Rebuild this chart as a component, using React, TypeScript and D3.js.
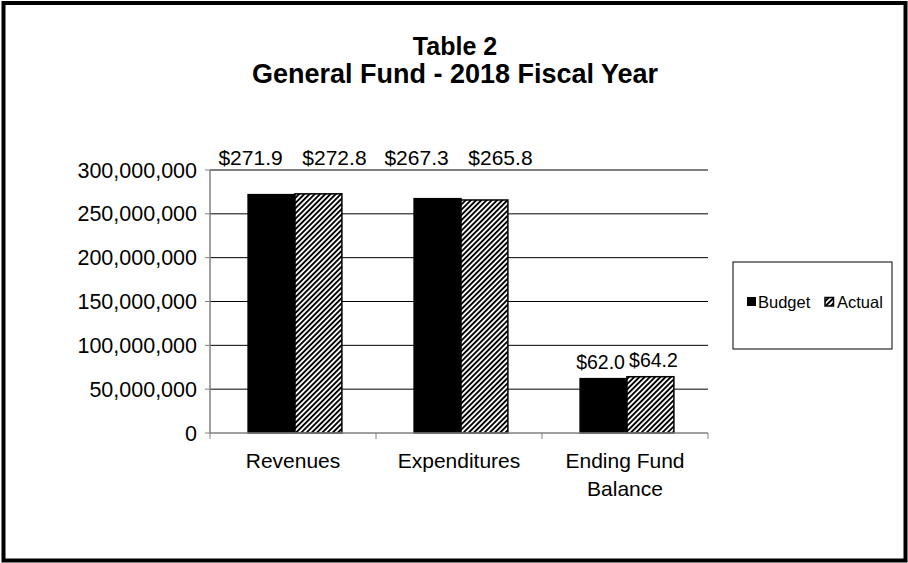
import React from "react";
import * as d3 from "d3";

const categories = ["Revenues", "Expenditures", "Ending Fund|Balance"];
const seriesNames = ["Budget", "Actual"];
const budgetValues = [271900000, 267300000, 62000000];
const actualValues = [272800000, 265800000, 64200000];
const yTicks = [0, 50000000, 100000000, 150000000, 200000000, 250000000, 300000000];
const titleLines = ["Table 2", "General Fund - 2018 Fiscal Year"];

export default function App() {
  const W = 908, H = 563;
  const left = 210, right = 708, top = 170, bottom = 433;
  const y = d3.scaleLinear().domain([0, 300000000]).range([bottom, top]);
  const x = d3.scaleBand().domain(categories).range([left, right]).paddingInner(0).paddingOuter(0);
  const inner = d3.scaleBand().domain(seriesNames).range([0, x.bandwidth()]).paddingOuter(0.77).paddingInner(0);
  const fmt = d3.format(",");
  const font = "Arial, 'Liberation Sans', sans-serif";
  const series = [budgetValues, actualValues];
  const fs = 21;
  // label placement tweaks (layout only): tall bars get labels spread apart above the plot, short bars stay centred
  const labelShift = (ci: number, si: number) => {
    if (ci === 2) return si === 0 ? -3 : 3;
    return si === 0 ? -21 : 16;
  };
  const labelY = (v: number) => (y(v) - 10 < top + 30 ? top - 5 : y(v) - 10);
  return (
    <svg width={W} height={H} style={{ position: "absolute", left: 0, top: 0 }} fontFamily={font}>
      <defs>
        <pattern id="hatch" patternUnits="userSpaceOnUse" width="3.7" height="3.7" patternTransform="rotate(45)">
          <rect width="3.7" height="3.7" fill="#fff" />
          <rect width="1.9" height="3.7" fill="#000" />
        </pattern>
      </defs>
      <rect x={0} y={0} width={W} height={H} fill="#fff" />
      <rect x={3.5} y={3} width={W - 6} height={H - 5.5} fill="none" stroke="#000" strokeWidth={4} />
      {titleLines.map((t, i) => (
        <text key={i} x={455} y={55 + i * 28} textAnchor="middle" fontWeight="bold" fontSize={i === 0 ? 25 : 27}>{t}</text>
      ))}
      {yTicks.map((t) => (
        <g key={t}>
          {t > 0 && <line x1={left} x2={right} y1={y(t)} y2={y(t)} stroke="#000" strokeWidth={1} />}
          <line x1={left - 5} x2={left} y1={y(t)} y2={y(t)} stroke="#808080" strokeWidth={1} />
          <text x={197} y={y(t)} dy="0.35em" textAnchor="end" fontSize={21.5}>{fmt(t)}</text>
        </g>
      ))}
      {categories.map((c, ci) => (
        <g key={c}>
          {series.map((vals, si) => {
            const bx = (x(c) as number) + (inner(seriesNames[si]) as number) + 2;
            const bw = inner.bandwidth();
            return (
              <g key={si}>
                <rect x={bx} y={y(vals[ci])} width={bw} height={bottom - y(vals[ci])}
                  fill={si === 0 ? "#000" : "url(#hatch)"} stroke="#000" strokeWidth={1.5} />
                <text x={bx + bw / 2 + labelShift(ci, si)} y={labelY(vals[ci])} textAnchor="middle" fontSize={ci === 2 ? 19.5 : fs}>
                  {"$" + d3.format(".1f")(vals[ci] / 1e6)}
                </text>
              </g>
            );
          })}
          {c.split("|").map((line, li) => (
            <text key={li} x={(x(c) as number) + x.bandwidth() / 2} y={468 + li * 28} textAnchor="middle" fontSize={fs}>{line}</text>
          ))}
        </g>
      ))}
      <line x1={left} x2={left} y1={top} y2={bottom} stroke="#808080" strokeWidth={1.5} />
      <line x1={left} x2={right} y1={bottom} y2={bottom} stroke="#808080" strokeWidth={1.5} />
      {[0, 1, 2, 3].map((i) => (
        <line key={i} x1={left + i * x.bandwidth()} x2={left + i * x.bandwidth()} y1={bottom} y2={bottom + 6} stroke="#808080" strokeWidth={1} />
      ))}
      <rect x={733} y={262} width={159} height={87} fill="#fff" stroke="#000" strokeWidth={1} />
      <rect x={747} y={297} width={9} height={9} fill="#000" />
      <text x={758} y={302} dy="0.35em" fontSize={16.5}>Budget</text>
      <rect x={825} y={297.5} width={8.5} height={8.5} fill="url(#hatch)" stroke="#000" strokeWidth={1.5} />
      <text x={837} y={302} dy="0.35em" fontSize={16.5}>Actual</text>
    </svg>
  );
}
